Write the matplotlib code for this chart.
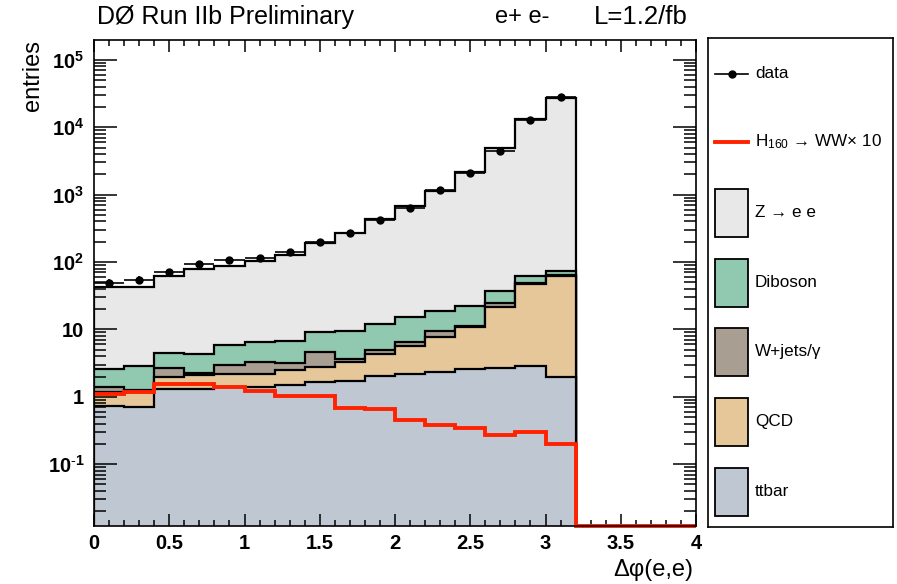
import numpy as np
import matplotlib
matplotlib.use("Agg")
from matplotlib import pyplot as plt
from matplotlib.patches import Rectangle

plt.rcParams['font.family'] = ['Liberation Sans', 'DejaVu Sans']
plt.rcParams['mathtext.fontset'] = 'custom'
plt.rcParams['mathtext.rm'] = 'Liberation Sans'
plt.rcParams['mathtext.it'] = 'Liberation Sans:italic'
plt.rcParams['mathtext.bf'] = 'Liberation Sans:bold'

# binning in delta phi(e,e)
phi_edges = np.linspace(0, 3.2, 17)
higgs_edges = np.linspace(0, 4.0, 21)

data_counts = [49, 55, 71, 95, 108, 115, 142, 200, 269, 425, 633, 1170, 2113, 4440, 12600, 28000]

# background contributions per bin
ttbar = [0.73, 0.70, 1.29, 1.29, 1.41, 1.41, 1.50, 1.67, 1.73, 2.04, 2.20, 2.36, 2.56, 2.65, 2.86, 1.95]
qcd = [0.44, 0.48, 0.66, 0.81, 0.75, 0.77, 1.00, 1.07, 1.59, 2.23, 3.47, 5.44, 8.34, 19.05, 44.3, 61.0]
wjets = [0.24, 0.07, 0.70, 0.13, 0.80, 1.14, 0.70, 1.93, 0.28, 0.68, 0.83, 1.77, 0.30, 2.70, 1.10, 1.10]
diboson = [1.15, 1.65, 1.80, 2.07, 2.94, 3.26, 3.45, 4.58, 5.97, 7.05, 8.80, 9.33, 11.0, 12.4, 13.2, 8.4]
zee = [39.4, 40.1, 56.6, 74.7, 82.1, 98.4, 120.4, 179.8, 256.4, 418, 662, 1111, 2166, 4823, 13038, 27328]

# signal H(160) -> WW scaled x10
higgs_x10 = [1.10, 1.19, 1.57, 1.55, 1.41, 1.23, 1.02, 1.02, 0.69, 0.66, 0.45, 0.38, 0.34, 0.27, 0.30, 0.197,
             0, 0, 0, 0]

stack_names = ['ttbar', 'QCD', 'W+jets/γ', 'Diboson', 'Z → e e']
stack_vals = [ttbar, qcd, wjets, diboson, zee]
stack_cols = ['#bec7d2', '#e6c799', '#a89e92', '#90c8b0', '#e8e8e8']

ymin, ymax = 0.0121, 1.97e5

fig = plt.figure(figsize=(8.97, 5.84), dpi=100)
ax = fig.add_axes([94 / 897, 1 - 526 / 584, 602 / 897, 486 / 584])

cum = np.cumsum(np.array(stack_vals), axis=0)
for i in range(len(stack_vals) - 1, -1, -1):
    ax.stairs(cum[i], phi_edges, baseline=ymin, fill=True, color=stack_cols[i], lw=0)
    ax.stairs(cum[i], phi_edges, baseline=ymin, fill=False, color='black', lw=1.6)

h = np.clip(np.array(higgs_x10, dtype=float), ymin, None)
ax.stairs(h, higgs_edges, baseline=None, color='#ff2200', lw=2.8, clip_on=False, zorder=4)

centers = 0.5 * (phi_edges[:-1] + phi_edges[1:])
d = np.array(data_counts, dtype=float)
ax.errorbar(centers, d, xerr=0.1, yerr=np.sqrt(d), fmt='o', color='black', ms=5,
            elinewidth=1.2, capsize=0, zorder=5)

ax.set_yscale('log')
ax.set_ylim(ymin, ymax)
ax.set_xlim(0, 4)

ax.set_xticks(np.arange(0, 4.01, 0.5))
ax.set_xticklabels(['0', '0.5', '1', '1.5', '2', '2.5', '3', '3.5', '4'])
ax.set_xticks(np.arange(0, 4.01, 0.1), minor=True)
yt = [0.1, 1, 10, 100, 1e3, 1e4, 1e5]
ax.set_yticks(yt)
ax.set_yticklabels([r'$\mathbf{10^{\text{-}1}}$', '1', '10', r'$\mathbf{10^{2}}$', r'$\mathbf{10^{3}}$',
                    r'$\mathbf{10^{4}}$', r'$\mathbf{10^{5}}$'])
ax.yaxis.set_minor_locator(matplotlib.ticker.LogLocator(base=10, subs=np.arange(2, 10), numticks=20))
ax.yaxis.set_minor_formatter(matplotlib.ticker.NullFormatter())

ax.tick_params(axis='both', which='both', direction='in', top=True, right=True, width=1.1)
ax.tick_params(axis='y', which='major', length=16.5, pad=7)
ax.tick_params(axis='y', which='minor', length=8.5)
ax.tick_params(axis='x', which='major', length=8.5, pad=6)
ax.tick_params(axis='x', which='minor', length=4.3)
for lab in ax.get_xticklabels() + ax.get_yticklabels():
    lab.set_fontsize(14.5)
    lab.set_fontweight('bold')
for s in ax.spines.values():
    s.set_linewidth(1.2)
    s.set_zorder(6)

fig.text(97 / 897, 1 - 17 / 584, 'DØ Run IIb Preliminary', fontsize=18, va='center', ha='left')
fig.text(495 / 897, 1 - 17 / 584, 'e+ e-', fontsize=17, va='center', ha='left')
fig.text(688 / 897, 1 - 17 / 584, 'L=1.2/fb', fontsize=18.5, va='center', ha='right')
fig.text(693 / 897, 1 - 570 / 584, 'Δφ(e,e)', fontsize=17, va='center', ha='right')
fig.text(33 / 897, 1 - 40 / 584, 'entries', fontsize=17, va='top', ha='center', rotation=90)

# legend box, coordinates in pixels of the figure
lg = fig.add_axes([708 / 897, 1 - 527 / 584, 185 / 897, 489 / 584])
lg.set_xlim(708, 893)
lg.set_ylim(527, 38)
lg.set_xticks([])
lg.set_yticks([])
for s in lg.spines.values():
    s.set_linewidth(1.2)

rows = [74, 142, 213, 283, 352, 422, 492]
lg.plot([715, 748], [rows[0], rows[0]], color='black', lw=1.2)
lg.plot([732], [rows[0]], 'o', color='black', ms=5)
lg.text(755, rows[0], 'data', fontsize=12.3, va='center')
lg.plot([715, 748], [rows[1], rows[1]], color='#ff2200', lw=2.8)
lg.text(755, rows[1], 'H$_{160}$ → WW× 10', fontsize=12.3, va='center')
for k, i in enumerate(range(len(stack_vals) - 1, -1, -1)):
    y = rows[2 + k]
    lg.add_patch(Rectangle((715, y - 24), 33, 48, facecolor=stack_cols[i], edgecolor='black', lw=1.3))
    lg.text(755, y, stack_names[i], fontsize=12.3, va='center')

fig.savefig('out.png', dpi=100)
